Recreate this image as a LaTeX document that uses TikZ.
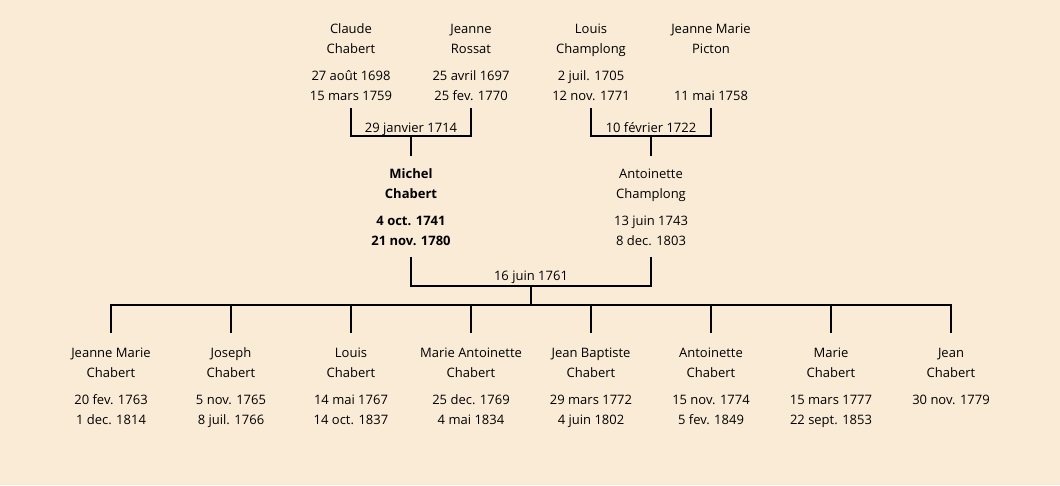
\documentclass[tikz,border=0pt]{standalone}
\usepackage{fontspec}
\setmainfont{Open Sans}
\usepackage{tikz}
\definecolor{parchment}{HTML}{FAEBD7}

% one person: two name lines, then birth and death
\newcommand{\pers}[4]{\strut #1\\\strut #2\\[7pt]\strut #3\\\strut #4}

\begin{document}
\begin{tikzpicture}[x=1pt,y=-1pt,
    every node/.style={font=\fontsize{13}{20}\selectfont},
    person/.style={align=center, anchor=north, inner xsep=2pt, inner ysep=2pt},
    wedding/.style={anchor=base},
    link/.style={line width=2.5pt}]
    \fill[parchment] (0,0) rectangle (1060,485);

    % grandparents
    \node[person] (cchabert) at (351,17) {\pers{Claude}{Chabert}{27 août 1698}{15 mars 1759}};
    \node[person] (jrossat) at (471,17) {\pers{Jeanne}{Rossat}{25 avril 1697}{25 fev. 1770}};
    \node[person] (lchamplong) at (591,17) {\pers{Louis}{Champlong}{2 juil. 1705}{12 nov. 1771}};
    \node[person] (jmpicton) at (711,17) {\pers{Jeanne Marie}{Picton}{}{11 mai 1758}};

    \node[wedding] (w1label) at (411,132) {29 janvier 1714};
    \node[wedding] (w2label) at (651,132) {10 février 1722};
    \coordinate (w1) at (411,136);
    \coordinate (w2) at (651,136);

    % parents
    \node[person, font=\fontsize{13}{20}\selectfont\bfseries] (mchabert) at (411,162) {\pers{Michel}{Chabert}{4 oct. 1741}{21 nov. 1780}};
    \node[person] (achamplong) at (651,162) {\pers{Antoinette}{Champlong}{13 juin 1743}{8 dec. 1803}};

    \node[wedding] (w3label) at (531,280) {16 juin 1761};
    \coordinate (w3) at (531,286);
    \coordinate (fam) at (531,305);

    % children
    \node[person] (kid1) at (111,341) {\pers{Jeanne Marie}{Chabert}{20 fev. 1763}{1 dec. 1814}};
    \node[person] (kid2) at (231,341) {\pers{Joseph}{Chabert}{5 nov. 1765}{8 juil. 1766}};
    \node[person] (kid3) at (351,341) {\pers{Louis}{Chabert}{14 mai 1767}{14 oct. 1837}};
    \node[person] (kid4) at (471,341) {\pers{Marie Antoinette}{Chabert}{25 dec. 1769}{4 mai 1834}};
    \node[person] (kid5) at (591,341) {\pers{Jean Baptiste}{Chabert}{29 mars 1772}{4 juin 1802}};
    \node[person] (kid6) at (711,341) {\pers{Antoinette}{Chabert}{15 nov. 1774}{5 fev. 1849}};
    \node[person] (kid7) at (831,341) {\pers{Marie}{Chabert}{15 mars 1777}{22 sept. 1853}};
    \node[person] (kid8) at (951,341) {\pers{Jean}{Chabert}{30 nov. 1779}{}};

    \draw[link] (cchabert.south) |- (w1) -| (jrossat.south);
    \draw[link] (lchamplong.south) |- (w2) -| (jmpicton.south);
    \draw[link, shorten >=6pt] (w1) -- (mchabert.north);
    \draw[link, shorten >=6pt] (w2) -- (achamplong.north);
    \draw[link, shorten <=4pt, shorten >=4pt] (mchabert.south) |- (w3) -| (achamplong.south);
    \draw[link] (w3) -- (fam);
    \draw[link, shorten <=8pt, shorten >=8pt] (kid1.north) |- (fam) -| (kid8.north);
    \foreach \k in {2,...,7}
      \draw[link, shorten <=8pt] (kid\k.north) -- (kid\k.north |- fam);
\end{tikzpicture}
\end{document}
